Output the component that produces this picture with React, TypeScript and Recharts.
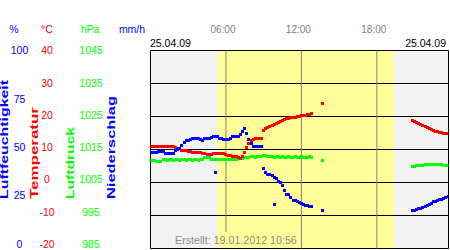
import {
  ComposedChart,
  XAxis,
  YAxis,
  Scatter,
  ReferenceArea,
  ReferenceLine,
} from "recharts";

const FONT = '"Liberation Sans", Arial, Helvetica, sans-serif';
const BLUE = "#0000ff";
const RED = "#ff0000";
const GREEN = "#00ff00";
const GREY = "#808080";

// Axis ticks
const humidityTicks = [0, 25, 50, 75, 100];
const temperatureTicks = [-20, -10, 0, 10, 20, 30, 40];
const pressureTicks = [985, 995, 1005, 1015, 1025, 1035, 1045];
const rainTicks = [0, 4, 8, 12, 16, 20, 24];
const hourTicks = [6, 12, 18];
const hourLabels = ["06:00", "12:00", "18:00"];

// Day / daylight (hours)
const DAY_END = 23.7;
const SUNRISE = 5.31;
const SUNSET = 19.37;

// Measurements every 10 minutes
const STEP_MIN = 10;
const MORNING_START = "00:00";
const EVENING_START = "20:50";

// Luftfeuchtigkeit (%)
const humidityMorning = [
  48.5, 48.5, 48.7, 48.7, 49.2, 49.2, 49.0, 48.2, 48.2, 48.2,
  48.2, 48.2, 49.5, 50.0, 50.5, 52.0, 53.3, 54.3, 54.5, 54.8,
  55.8, 55.8, 55.8, 55.8, 54.8, 54.5, 55.8, 55.8, 55.8, 56.3,
  56.7, 56.7, 56.6, 55.8, 55.6, 55.3, 55.3, 55.3, 55.6, 56.6,
  56.6, 56.6, 56.8, 57.6, 59.1, 60.4, 58.1, 55.3, 53.0, 51.5,
  51.5, 51.5, 51.5, 51.5, 40.4, 38.4, 37.4, 37.4, 37.1, 35.9,
  35.4, 33.6, 33.3, 31.6, 29.3, 27.5, 27.3, 25.8, 24.2, 24.0,
  23.7, 23.2, 22.7, 22.0, 21.7, 21.7, 21.2, 21.2,
];
const humidityEvening = [
  19.2, 19.2, 19.7, 20.2, 20.2, 20.5, 21.2, 21.7, 22.2, 22.7,
  23.5, 23.7, 24.2, 24.5, 24.7, 25.3, 25.8, 26.3,
];
const humidityStray = [
  { time: "05:10", value: 38.4 },
  { time: "09:50", value: 22.2 },
  { time: "13:40", value: 19.0 },
];

// Temperatur (°C)
const temperatureMorning = [
  10.8, 10.8, 10.8, 10.8, 10.8, 10.8, 10.8, 10.8, 10.8, 10.8,
  10.8, 10.8, 10.5, 10.3, 10.2, 9.8, 9.7, 9.7, 9.5, 9.4,
  9.2, 9.1, 9.1, 9.1, 9.1, 8.9, 8.8, 8.6, 8.6, 8.6,
  8.8, 8.9, 8.9, 8.9, 8.9, 8.8, 8.6, 8.3, 8.2, 8.0,
  7.9, 7.9, 7.7, 7.3, 7.9, 9.1, 10.5, 11.8, 12.7, 13.0,
  13.2, 13.2, 13.2, 13.2, 15.8, 16.4, 16.8, 17.1, 17.4, 17.7,
  18.0, 18.3, 18.6, 18.9, 19.1, 19.4, 19.5, 19.7, 19.8, 19.8,
  20.0, 20.0, 20.2, 20.2, 20.3, 20.5, 20.6, 20.8,
];
const temperatureEvening = [
  18.9, 18.6, 18.3, 18.0, 17.7, 17.4, 17.1, 16.8, 16.5, 16.1,
  15.9, 15.6, 15.5, 15.3, 15.2, 15.0, 14.8, 14.8,
];
const temperatureStray = [{ time: "13:40", value: 23.8 }];

// Luftdruck (hPa)
const pressureMorning = [
  1011.8, 1011.8, 1011.8, 1011.5, 1011.5, 1011.5, 1012.0, 1012.1, 1011.8, 1012.0,
  1012.1, 1011.8, 1012.0, 1012.1, 1011.8, 1012.0, 1012.1, 1011.8, 1012.0, 1012.1,
  1011.8, 1012.0, 1012.1, 1011.8, 1012.0, 1012.1, 1012.6, 1012.6, 1012.6, 1012.0,
  1012.1, 1012.1, 1012.0, 1012.1, 1012.1, 1012.0, 1012.1, 1012.1, 1012.1, 1012.0,
  1012.1, 1012.1, 1012.3, 1012.3, 1012.4, 1012.6, 1012.7, 1012.7, 1012.9, 1012.9,
  1012.7, 1012.9, 1012.9, 1013.0, 1013.3, 1013.3, 1013.0, 1012.9, 1012.9, 1012.7,
  1012.9, 1012.9, 1012.7, 1012.9, 1012.7, 1012.7, 1012.9, 1012.7, 1012.7, 1012.9,
  1012.7, 1012.7, 1012.9, 1012.7, 1012.7, 1012.7, 1012.9, 1012.7,
];
const pressureEvening = [
  1009.7, 1009.7, 1010.0, 1010.2, 1010.2, 1010.3, 1010.4, 1010.4, 1010.4, 1010.4,
  1010.4, 1010.4, 1010.4, 1010.4, 1010.4, 1010.3, 1010.2, 1010.0,
];
const pressureStray = [{ time: "13:40", value: 1011.6 }];

const toHours = (hhmm: string) => {
  const [h, m] = hhmm.split(":").map(Number);
  return h + m / 60;
};

const seriesFrom = (start: string, values: number[]) =>
  values.map((v, i) => ({ t: toHours(start) + (i * STEP_MIN) / 60, v }));

const strayFrom = (pts: { time: string; value: number }[]) =>
  pts.map((p) => ({ t: toHours(p.time), v: p.value }));

const humidityData = [
  ...seriesFrom(MORNING_START, humidityMorning),
  ...strayFrom(humidityStray),
  ...seriesFrom(EVENING_START, humidityEvening),
];
const temperatureData = [
  ...seriesFrom(MORNING_START, temperatureMorning),
  ...strayFrom(temperatureStray),
  ...seriesFrom(EVENING_START, temperatureEvening),
];
const pressureData = [
  ...seriesFrom(MORNING_START, pressureMorning),
  ...strayFrom(pressureStray),
  ...seriesFrom(EVENING_START, pressureEvening),
];

const PLOT_TOP = 50.5;
const LABEL_SQUEEZE = 193.5 / 198;

// 3x3 px square marker
const square = (color: string) => (props: any) => {
  const { cx, cy } = props;
  if (cx == null || cy == null) return <g />;
  return (
    <rect
      x={Math.round(cx - 1.5)}
      y={Math.round(cy - 1.5)}
      width={3}
      height={3}
      fill={color}
    />
  );
};

const axisTick = (color: string, cx: number) => (props: any) => {
  const { y, payload } = props;
  const yy = PLOT_TOP + (y - PLOT_TOP) * LABEL_SQUEEZE;
  return (
    <text
      x={cx}
      y={yy}
      dy={3.8}
      textAnchor="middle"
      fill={color}
      fontSize={10.5}
      fontFamily={FONT}
    >
      {payload.value}
    </text>
  );
};

const hourTick = (props: any) => {
  const { x, payload } = props;
  const idx = hourTicks.indexOf(payload.value);
  return (
    <text
      x={x - 3}
      y={32.7}
      textAnchor="middle"
      fill={GREY}
      fontSize={10}
      fontFamily={FONT}
    >
      {hourLabels[idx]}
    </text>
  );
};

const titleStyle = {
  fontFamily: FONT,
  fontSize: 10,
  fontWeight: "bold" as const,
};

function AxisTitle({ x, text, color, length }: { x: number; text: string; color: string; length: number }) {
  return (
    <text
      x={x}
      y={199}
      transform={`rotate(-90 ${x} 199)`}
      fill={color}
      textLength={length}
      lengthAdjust="spacingAndGlyphs"
      style={titleStyle}
    >
      {text}
    </text>
  );
}

export default function App() {
  return (
    <div style={{ position: "absolute", left: 0, top: 0, width: 450, height: 250, background: "#fff" }}>
      <ComposedChart
        width={450}
        height={250}
        margin={{ top: 0.5, right: 1.5, bottom: 1.5, left: 0.5 }}
      >
        <XAxis
          xAxisId="x"
          type="number"
          dataKey="t"
          orientation="top"
          height={50}
          domain={[0, DAY_END]}
          allowDataOverflow
          ticks={hourTicks}
          interval={0}
          tick={hourTick}
          axisLine={false}
          tickLine={false}
        />
        <YAxis
          yAxisId="h"
          dataKey="v"
          type="number"
          width={37.5}
          domain={[0, 100]}
          ticks={humidityTicks}
          interval={0}
          tick={axisTick(BLUE, 19.5)}
          axisLine={false}
          tickLine={false}
        />
        <YAxis
          yAxisId="t"
          dataKey="v"
          type="number"
          width={37.5}
          domain={[-20, 40]}
          ticks={temperatureTicks}
          interval={0}
          tick={axisTick(RED, 47)}
          axisLine={false}
          tickLine={false}
        />
        <YAxis
          yAxisId="p"
          dataKey="v"
          type="number"
          width={37.5}
          domain={[985, 1045]}
          ticks={pressureTicks}
          interval={0}
          tick={axisTick(GREEN, 91)}
          axisLine={false}
          tickLine={false}
        />
        <YAxis
          yAxisId="n"
          dataKey="v"
          type="number"
          width={37.5}
          domain={[0, 24]}
          ticks={rainTicks}
          interval={0}
          tick={axisTick(BLUE, 124)}
          axisLine={false}
          tickLine={false}
        />

        <ReferenceArea
          xAxisId="x"
          yAxisId="t"
          x1={0}
          x2={DAY_END}
          y1={-20}
          y2={40}
          fill="#f2f2f2"
          fillOpacity={1}
          stroke="none"
        />
        <ReferenceArea
          xAxisId="x"
          yAxisId="t"
          x1={SUNRISE}
          x2={SUNSET}
          y1={-20}
          y2={40}
          fill="#ffff99"
          fillOpacity={1}
          stroke="none"
        />
        {temperatureTicks.slice(1, -1).map((v) => (
          <ReferenceLine key={`h${v}`} xAxisId="x" yAxisId="t" y={v} stroke="#000" strokeWidth={1} />
        ))}
        {hourTicks.map((h) => (
          <ReferenceLine
            key={`v${h}`}
            xAxisId="x"
            yAxisId="t"
            segment={[
              { x: h, y: 40 },
              { x: h, y: h === 6 ? -15 : -20 },
            ]}
            stroke={GREY}
            strokeWidth={1}
          />
        ))}
        <ReferenceArea
          xAxisId="x"
          yAxisId="t"
          x1={0}
          x2={DAY_END}
          y1={-20}
          y2={40}
          fill="none"
          stroke="#000"
          strokeWidth={1}
        />

        <Scatter
          xAxisId="x"
          yAxisId="p"
          data={pressureData}
          shape={square(GREEN)}
          isAnimationActive={false}
        />
        <Scatter
          xAxisId="x"
          yAxisId="t"
          data={temperatureData}
          shape={square(RED)}
          isAnimationActive={false}
        />
        <Scatter
          xAxisId="x"
          yAxisId="h"
          data={humidityData}
          shape={square(BLUE)}
          isAnimationActive={false}
        />
      </ComposedChart>

      <svg
        width={450}
        height={250}
        style={{ position: "absolute", left: 0, top: 0, pointerEvents: "none" }}
      >
        <g fontFamily={FONT} fontSize={10.5} textAnchor="middle">
          <text x={14} y={33.3} fill={BLUE}>%</text>
          <text x={47} y={33.3} fill={RED}>°C</text>
          <text x={90} y={33.3} fill={GREEN}>hPa</text>
          <text x={132} y={33.3} fill={BLUE}>mm/h</text>
        </g>
        <AxisTitle x={7.5} text="Luftfeuchtigkeit" color={BLUE} length={119} />
        <AxisTitle x={37.7} text="Temperatur" color={RED} length={92} />
        <AxisTitle x={74} text="Luftdruck" color={GREEN} length={72} />
        <AxisTitle x={114.5} text="Niederschlag" color={BLUE} length={103} />
        <text x={150} y={46.7} fill="#000" fontFamily={FONT} fontSize={10.5}>25.04.09</text>
        <text x={446} y={46.7} fill="#000" fontFamily={FONT} fontSize={10.5} textAnchor="end">25.04.09</text>
        <text x={175} y={244} fill="#8c8c8c" fontFamily={FONT} fontSize={10.7}>
          Erstellt: 19.01.2012 10:56
        </text>
      </svg>
    </div>
  );
}
